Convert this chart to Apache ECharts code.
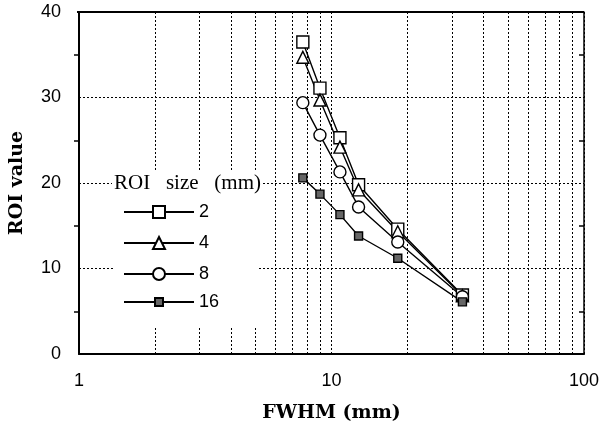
<!DOCTYPE html>
<html>
<head>
<meta charset="utf-8">
<script src="https://cdn.jsdelivr.net/npm/echarts@6/dist/echarts.min.js"></script>
<style>
  html, body { margin: 0; padding: 0; background: #fff; }
  #chart { width: 609px; height: 428px; }
</style>
</head>
<body>
<div id="chart"></div>
<script>
// values
const fwhm = [7.7, 9.0, 10.8, 12.8, 18.3, 33];
const roi2 = [36.5, 31.1, 25.3, 19.8, 14.6, 6.9];
const roi4 = [34.7, 29.7, 24.2, 19.2, 14.3, 6.8];
const roi8 = [29.4, 25.6, 21.3, 17.2, 13.1, 6.7];
const roi16 = [20.6, 18.7, 16.3, 13.8, 11.2, 6.1];
const sizeNames = ['2', '4', '8', '16'];
const minorGrid = [2, 3, 4, 5, 6, 7, 8, 9, 20, 30, 40, 50, 60, 70, 80, 90];

const pairs = (ys) => fwhm.map((x, i) => [x, ys[i]]);
const dotted = { color: '#000', type: [2, 2], width: 1 };

function makeSeries(name, ys, symbol, size, fill) {
    return {
        name: name,
        type: 'line',
        data: pairs(ys),
        symbol: symbol,
        symbolSize: size,
        showSymbol: true,
        z: 5,
        lineStyle: { color: '#000', width: 1.4 },
        itemStyle: { color: fill, borderColor: '#000', borderWidth: 1.4 }
    };
}

const legendText = { fontFamily: 'Liberation Sans', fontSize: 18, color: '#000', width: 60, align: 'center', lineHeight: 17 };

const myChart = echarts.init(document.getElementById('chart'));
const option = {
    animation: false,
    backgroundColor: '#fff',
    grid: { left: 77, right: 25, top: 12, bottom: 74, show: false },
    title: {
        text: 'ROI   size   (mm)',
        left: 112, top: 172,
        padding: [1, 2],
        backgroundColor: '#fff',
        textStyle: { fontFamily: 'Liberation Serif', fontSize: 21, fontWeight: 'normal', color: '#000' },
        z: 100
    },
    legend: [{
        orient: 'vertical',
        left: 114, top: 190,
        padding: [13, 0, 0, 9],
        itemWidth: 70, itemHeight: 15, itemGap: 13,
        data: sizeNames.slice(0, 3),
        textStyle: legendText,
        z: 100
    }, {
        orient: 'vertical',
        left: 123, top: 293,
        padding: 0,
        itemWidth: 70, itemHeight: 10,
        data: sizeNames.slice(3),
        textStyle: legendText,
        z: 100
    }],
    xAxis: {
        type: 'log', logBase: 10, min: 1, max: 100,
        name: 'FWHM (mm)', nameLocation: 'middle', nameGap: 50,
        nameTextStyle: { fontFamily: 'DejaVu Serif', fontWeight: 'bold', fontSize: 19, color: '#000' },
        axisLine: { lineStyle: { color: '#000', width: 2 } },
        axisTick: { show: false },
        axisLabel: { fontFamily: 'Liberation Sans', fontSize: 18, color: '#000', margin: 18 },
        splitLine: { show: true, lineStyle: dotted }
    },
    yAxis: [{
        type: 'value', min: 0, max: 40, interval: 10,
        name: 'ROI value', nameLocation: 'middle', nameGap: 52, nameRotate: 90,
        nameTextStyle: { fontFamily: 'DejaVu Serif', fontWeight: 'bold', fontSize: 19, color: '#000' },
        axisLine: { show: true, lineStyle: { color: '#000', width: 2 } },
        axisTick: { show: false },
        minorTick: { show: true, splitNumber: 2, length: 5, lineStyle: { color: '#000', width: 1.5 } },
        axisLabel: { fontFamily: 'Liberation Sans', fontSize: 18, color: '#000', margin: 18 },
        splitLine: { show: true, lineStyle: dotted }
    }, {
        type: 'value', min: 0, max: 40, interval: 10, position: 'right',
        axisLine: { show: true, lineStyle: { color: '#000', width: 1.5 } },
        axisTick: { show: false },
        minorTick: { show: true, splitNumber: 2, length: -5, lineStyle: { color: '#000', width: 1.5 } },
        axisLabel: { show: false },
        splitLine: { show: false }
    }],
    series: [
        makeSeries('2', roi2, 'rect', 12, '#fff'),
        makeSeries('4', roi4, 'triangle', 12, '#fff'),
        makeSeries('8', roi8, 'circle', 12, '#fff'),
        makeSeries('16', roi16, 'rect', 8, '#666'),
        {
            name: 'minor', type: 'line', data: [], silent: true, z: 0,
            markLine: {
                silent: true, symbol: 'none', label: { show: false },
                lineStyle: dotted,
                data: minorGrid.map(v => ({ xAxis: v }))
            }
        }
    ],
    // top border and the white panel behind the legend
    graphic: [{
        type: 'line', silent: true, z: 60,
        shape: { x1: 77, y1: 12, x2: 584, y2: 12 },
        style: { stroke: '#000', lineWidth: 2 }
    }, {
        type: 'rect', silent: true, z: 50,
        shape: { x: 114, y: 172, width: 144, height: 156 },
        style: { fill: '#fff' }
    }]
};
myChart.setOption(option);
</script>
</body>
</html>
